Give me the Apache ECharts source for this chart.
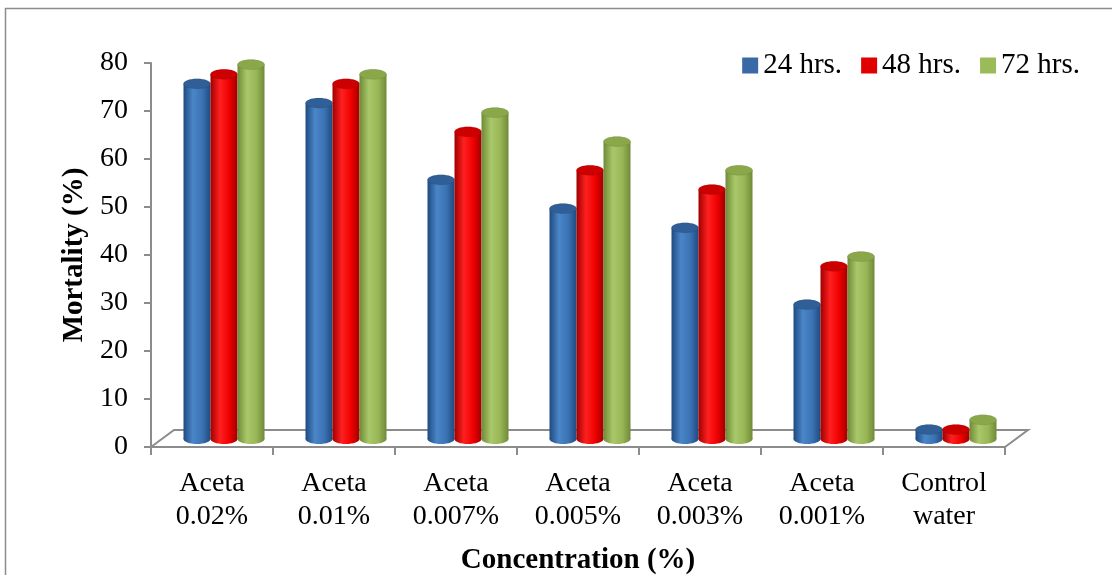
<!DOCTYPE html>
<html>
<head>
<meta charset="utf-8">
<script src="https://cdn.jsdelivr.net/npm/echarts@6/dist/echarts.min.js"></script>
<style>
html,body{margin:0;padding:0;background:#fff;}
#chart{width:1112px;height:575px;}
</style>
</head>
<body>
<div id="chart"></div>
<script>
const categories = ['Aceta\n0.02%', 'Aceta\n0.01%', 'Aceta\n0.007%', 'Aceta\n0.005%', 'Aceta\n0.003%', 'Aceta\n0.001%', 'Control\nwater'];
const hrs24 = [74, 70, 54, 48, 44, 28, 2];
const hrs48 = [76, 74, 64, 56, 52, 36, 2];
const hrs72 = [78, 76, 68, 62, 56, 38, 4];
const seriesNames = ['24 hrs.', '48 hrs.', '72 hrs.'];
const yTicks = [0, 10, 20, 30, 40, 50, 60, 70, 80];

const FONT = '"Liberation Serif", "Times New Roman", serif';
const palettes = [
  { legend: '#3a6aa6', body: ['#1f4a80', '#4a86c8', '#3b72b3', '#1f4a80'], cap: '#2f5f96' },
  { legend: '#e00000', body: ['#a00000', '#ff2020', '#ee0000', '#a00000'], cap: '#cc0000' },
  { legend: '#9bbb59', body: ['#6f8a38', '#a9c86a', '#98b656', '#6f8a38'], cap: '#8aa84a' }
];

function makeRender(s) {
  return function (params, api) {
    const i = api.value(0), v = api.value(1);
    const base = api.coord([i, 0]);
    const top = api.coord([i, v]);
    const w = 27, rx = 13.5, ry = 5, dx = 12, dy = -8;
    const cx = base[0] + dx + (s - 1) * w;
    const yb = base[1] + dy;
    const yt = top[1] + dy;
    const p = palettes[s];
    const grad = new echarts.graphic.LinearGradient(0, 0, 1, 0, [
      { offset: 0, color: p.body[0] },
      { offset: 0.35, color: p.body[1] },
      { offset: 0.7, color: p.body[2] },
      { offset: 1, color: p.body[3] }
    ]);
    return {
      type: 'group',
      children: [
        { type: 'ellipse', shape: { cx: cx, cy: yb, rx: rx, ry: ry }, style: { fill: grad } },
        { type: 'rect', shape: { x: cx - rx, y: yt, width: w, height: Math.max(0, yb - yt) }, style: { fill: grad } },
        { type: 'ellipse', shape: { cx: cx, cy: yt, rx: rx, ry: ry }, style: { fill: p.cap, stroke: 'rgba(0,0,0,0.15)', lineWidth: 0.5 } }
      ]
    };
  };
}

const chart = echarts.init(document.getElementById('chart'), null, { renderer: 'canvas' });
const allData = [hrs24, hrs48, hrs72];
const series = allData.map(function (arr, s) {
  return {
    name: seriesNames[s],
    type: 'custom',
    renderItem: makeRender(s),
    encode: { x: 0, y: 1 },
    data: arr.map(function (v, i) { return [i, v]; }),
    itemStyle: { color: palettes[s].legend },
    clip: false,
    z: 3
  };
});
series.unshift({
  name: 'floor',
  type: 'custom',
  data: [[0, 0]],
  encode: { x: 0, y: 1 },
  z: 1,
  clip: false,
  silent: true,
  renderItem: function (params, api) {
    const c = params.coordSys;
    const yb = c.y + c.height;
    return {
      type: 'polyline',
      shape: { points: [[c.x, yb], [c.x + 23, yb - 17], [c.x + c.width + 23, yb - 17], [c.x + c.width, yb]] },
      style: { stroke: '#8c8c8c', lineWidth: 2, fill: null }
    };
  }
});

chart.setOption({
  backgroundColor: '#ffffff',
  animation: false,
  graphic: [{
    type: 'rect',
    shape: { x: 5.5, y: 8.5, width: 1200, height: 700 },
    style: { fill: null, stroke: '#8c8c8c', lineWidth: 1.5 },
    silent: true
  }],
  legend: {
    data: seriesNames,
    top: 46,
    right: 27,
    icon: 'rect',
    itemWidth: 16,
    itemHeight: 16,
    itemGap: 19,
    textStyle: { fontFamily: FONT, fontSize: 29, color: '#000' }
  },
  grid: { left: 151, right: 107, top: 63, bottom: 128, outerBoundsMode: 'none', containLabel: false },
  xAxis: {
    type: 'category',
    data: categories,
    boundaryGap: true,
    axisLine: { lineStyle: { color: '#8c8c8c', width: 2 } },
    axisTick: { show: true, alignWithLabel: false, length: 8, lineStyle: { color: '#8c8c8c', width: 2 } },
    axisLabel: { fontFamily: FONT, fontSize: 28, color: '#000', lineHeight: 33, margin: 20, interval: 0 },
    name: 'Concentration (%)',
    nameLocation: 'middle',
    nameGap: 99,
    nameTextStyle: { fontFamily: FONT, fontSize: 29, fontWeight: 'bold', color: '#000' }
  },
  yAxis: {
    type: 'value',
    min: yTicks[0],
    max: yTicks[yTicks.length - 1],
    interval: yTicks[1] - yTicks[0],
    splitLine: { show: false },
    axisLine: { show: true, lineStyle: { color: '#8c8c8c', width: 2 } },
    axisTick: { show: true, length: 7, lineStyle: { color: '#8c8c8c', width: 2 } },
    axisLabel: { fontFamily: FONT, fontSize: 28, color: '#000', margin: 23 },
    name: 'Mortality (%)',
    nameLocation: 'middle',
    nameGap: 62,
    nameTextStyle: { fontFamily: FONT, fontSize: 29, fontWeight: 'bold', color: '#000' }
  },
  series: series
});
</script>
</body>
</html>
